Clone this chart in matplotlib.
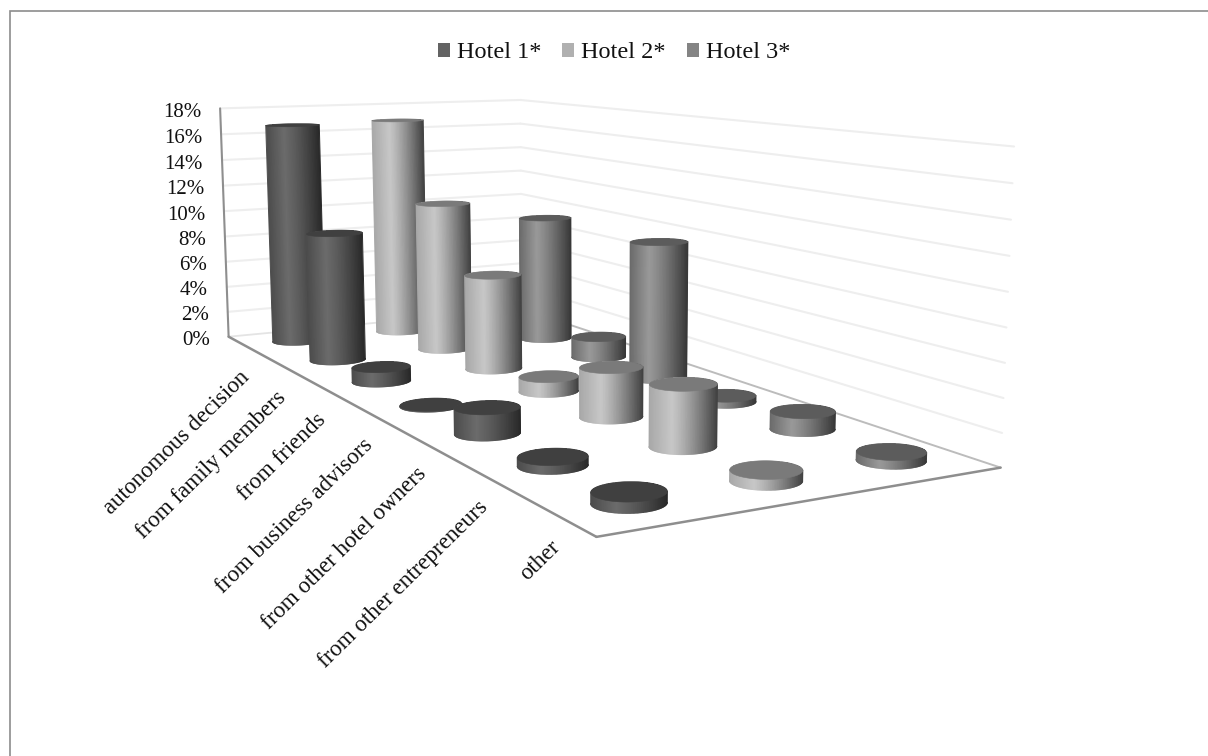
import numpy as np
import matplotlib
matplotlib.use("Agg")
import matplotlib.pyplot as plt
from matplotlib.collections import LineCollection
from matplotlib.patches import Patch, Polygon

categories = ["autonomous decision", "from family members", "from friends",
              "from business advisors", "from other hotel owners",
              "from other entrepreneurs", "other"]
series_names = ["Hotel 1*", "Hotel 2*", "Hotel 3*"]
hotel_1 = [16.8, 9.4, 1.0, 0.05, 1.6, 0.5, 0.6]
hotel_2 = [16.9, 11.1, 6.8, 1.0, 3.2, 3.75, 0.6]
hotel_3 = [3.0, 9.5, 1.5, 9.6, 0.4, 1.1, 0.5]
percent_ticks = list(range(0, 20, 2))

# Camera calibration: (category, series depth, percent) -> canvas pixel
anchors_3d = [(0, 0, 0), (7, 0, 0), (7, 3, 0), (0, 3, 0), (0, 0, 18), (0, 3, 18), (7, 3, 18)]
anchors_px = [(230, 337), (596, 537), (1002, 467), (520, 309), (219, 108), (522, 100), (1013, 147)]


def camera_matrix(world, pixel):
    rows, rhs = [], []
    for (x, y, z), (u, v) in zip(world, pixel):
        rows.append([x, y, z, 1, 0, 0, 0, 0, -u * x, -u * y, -u * z])
        rhs.append(u)
        rows.append([0, 0, 0, 0, x, y, z, 1, -v * x, -v * y, -v * z])
        rhs.append(v)
    sol = np.linalg.lstsq(np.array(rows, float), np.array(rhs, float), rcond=None)[0]
    return np.append(sol, 1.0).reshape(3, 4)


CAM = camera_matrix(anchors_3d, anchors_px)


def project(x, y, z):
    x, y, z = np.broadcast_arrays(np.asarray(x, float), np.asarray(y, float), np.asarray(z, float))
    pts = np.stack([x, y, z, np.ones_like(x)], axis=-1) @ CAM.T
    return pts[..., 0] / pts[..., 2], pts[..., 1] / pts[..., 2]


def line3d(ax, p, q, **kw):
    u, v = project([p[0], q[0]], [p[1], q[1]], [p[2], q[2]])
    ax.plot(u, v, solid_capstyle="round", **kw)


SERIF = "Liberation Serif"
RADIUS_X, RADIUS_Y = 0.22, 0.235
THETA = np.linspace(0, 2 * np.pi, 181)

# (left edge, highlight, right edge, top cap) gray levels per series
SHADES = [(0.30, 0.42, 0.16, 0.25), (0.66, 0.78, 0.26, 0.48), (0.42, 0.60, 0.22, 0.36)]
LEGEND_COLORS = ["#636363", "#b0b0b0", "#848484"]


def side_gray(t, shade):
    left, peak, right, _ = shade
    return np.where(t < 0.33, left + (peak - left) * t / 0.33,
                    peak + (right - peak) * (np.maximum(t - 0.33, 0) / 0.67) ** 1.25)


def half_outline(u, v, lower):
    """Arc of a projected ellipse below (or above) its left-right chord, sorted left to right."""
    il, ir = np.argmin(u), np.argmax(u)
    chord = v[il] + (v[ir] - v[il]) * (u - u[il]) / (u[ir] - u[il])
    keep = v >= chord if lower else v <= chord
    idx = np.where(keep)[0]
    idx = idx[np.argsort(u[idx])]
    return u[idx], v[idx]


def draw_cylinder(ax, cx, cy, value, shade, zorder):
    xs = cx + RADIUS_X * np.cos(THETA)
    ys = cy + RADIUS_Y * np.sin(THETA)
    ub, vb = project(xs, ys, 0.0)
    ut, vt = project(xs, ys, value)
    low_u, low_v = half_outline(ub, vb, True)
    up_u, up_v = half_outline(ut, vt, False)

    # Shaded side: a gradient sheet that leans with the cylinder, clipped to the silhouette
    frac = np.linspace(0, 1, 40)
    sheet_x = np.vstack([ub.min() + (ub.max() - ub.min()) * frac,
                         ut.min() + (ut.max() - ut.min()) * frac])
    sheet_y = np.vstack([np.full_like(frac, vb.max() + 2), np.full_like(frac, vt.min() - 2)])
    grays = side_gray(frac, shade)
    sheet = ax.pcolormesh(sheet_x, sheet_y, np.vstack([grays, grays]), shading="gouraud",
                          cmap="gray", vmin=0, vmax=1, zorder=zorder)
    outline = Polygon(np.column_stack([np.r_[low_u, up_u[::-1]], np.r_[low_v, up_v[::-1]]]),
                      closed=True, transform=ax.transData)
    sheet.set_clip_path(outline)

    # Thin strokes over the clipped edges keep the silhouette smooth
    arc = np.column_stack([low_u, low_v])
    tone = side_gray((low_u[:-1] - low_u[0]) / (low_u[-1] - low_u[0]), shade)
    ax.add_collection(LineCollection(np.stack([arc[:-1], arc[1:]], axis=1),
                                     colors=[(g, g, g) for g in tone], linewidths=0.7,
                                     capstyle="round", zorder=zorder + 0.1))
    for end, frac_end in ((0, 0.0), (-1, 1.0)):
        g = float(side_gray(np.array(frac_end), shade))
        ax.plot([low_u[end], up_u[end]], [low_v[end], up_v[end]], color=(g, g, g), lw=0.7,
                zorder=zorder + 0.1)

    cap = shade[3]
    ax.fill(ut, vt, color=(cap, cap, cap), lw=0.4, joinstyle="round", zorder=zorder + 0.5)


fig = plt.figure(figsize=(12.08, 7.56), dpi=100, facecolor="white")
ax = fig.add_axes([0, 0, 1, 1])
ax.set_xlim(0, 1208)
ax.set_ylim(756, 0)
ax.axis("off")

# Chart frame runs along the top and left of the canvas
ax.plot([10, 10, 1208], [756, 11, 11], color="#8c8c8c", lw=1.2, solid_joinstyle="miter")

# Wall gridlines
for v in percent_ticks:
    if v == 0:
        continue
    line3d(ax, (0, 0, v), (0, 3, v), color="#eeeeee", lw=1.5, zorder=1)
    line3d(ax, (0, 3, v), (7, 3, v), color="#eeeeee", lw=1.5, zorder=1)
line3d(ax, (0, 0, 0), (0, 3, 0), color="#e4e4e4", lw=1.3, zorder=1)
line3d(ax, (0, 3, 0), (7, 3, 0), color="#bcbcbc", lw=1.4, zorder=1)

# Front edges of the floor and the left upright
line3d(ax, (0, 0, 0), (0, 0, 18), color="#8e8e8e", lw=1.5, zorder=2)
line3d(ax, (0, 0, 0), (7, 0, 0), color="#8e8e8e", lw=1.8, zorder=2)
line3d(ax, (7, 0, 0), (7, 3, 0), color="#8e8e8e", lw=1.8, zorder=2)

# Cylinders, far row first so nearer ones overlap them
z = 3.0
rows = [hotel_1, hotel_2, hotel_3]
for j in (2, 1, 0):
    for i, value in enumerate(rows[j]):
        draw_cylinder(ax, i + 0.5, j + 0.5, value, SHADES[j], z)
        z += 1

# Percent labels
for v in percent_ticks:
    u, w = project(0, 0, v)
    ax.text(u - 19, w + 4, f"{v}%", ha="right", va="center", family=SERIF,
            fontsize=15, color="#111111", zorder=200)

# Category labels along the front edge
for i, name in enumerate(categories):
    u, w = project(i + 0.5, 0, 0)
    ax.text(u + 1, w + 29, name, ha="right", va="center", rotation=44.5, rotation_mode="anchor",
            family=SERIF, fontsize=16.6, color="#111111", zorder=200)

handles = [Patch(facecolor=c, edgecolor="none") for c in LEGEND_COLORS]
ax.legend(handles, series_names, loc="center", bbox_to_anchor=(614 / 1208, 1 - 53 / 756),
          ncol=3, frameon=False, prop={"family": SERIF, "size": 17.5},
          handlelength=0.5, handleheight=0.5, handletextpad=0.3, columnspacing=0.85,
          labelcolor="#111111")

fig.savefig("out.png", dpi=100)
